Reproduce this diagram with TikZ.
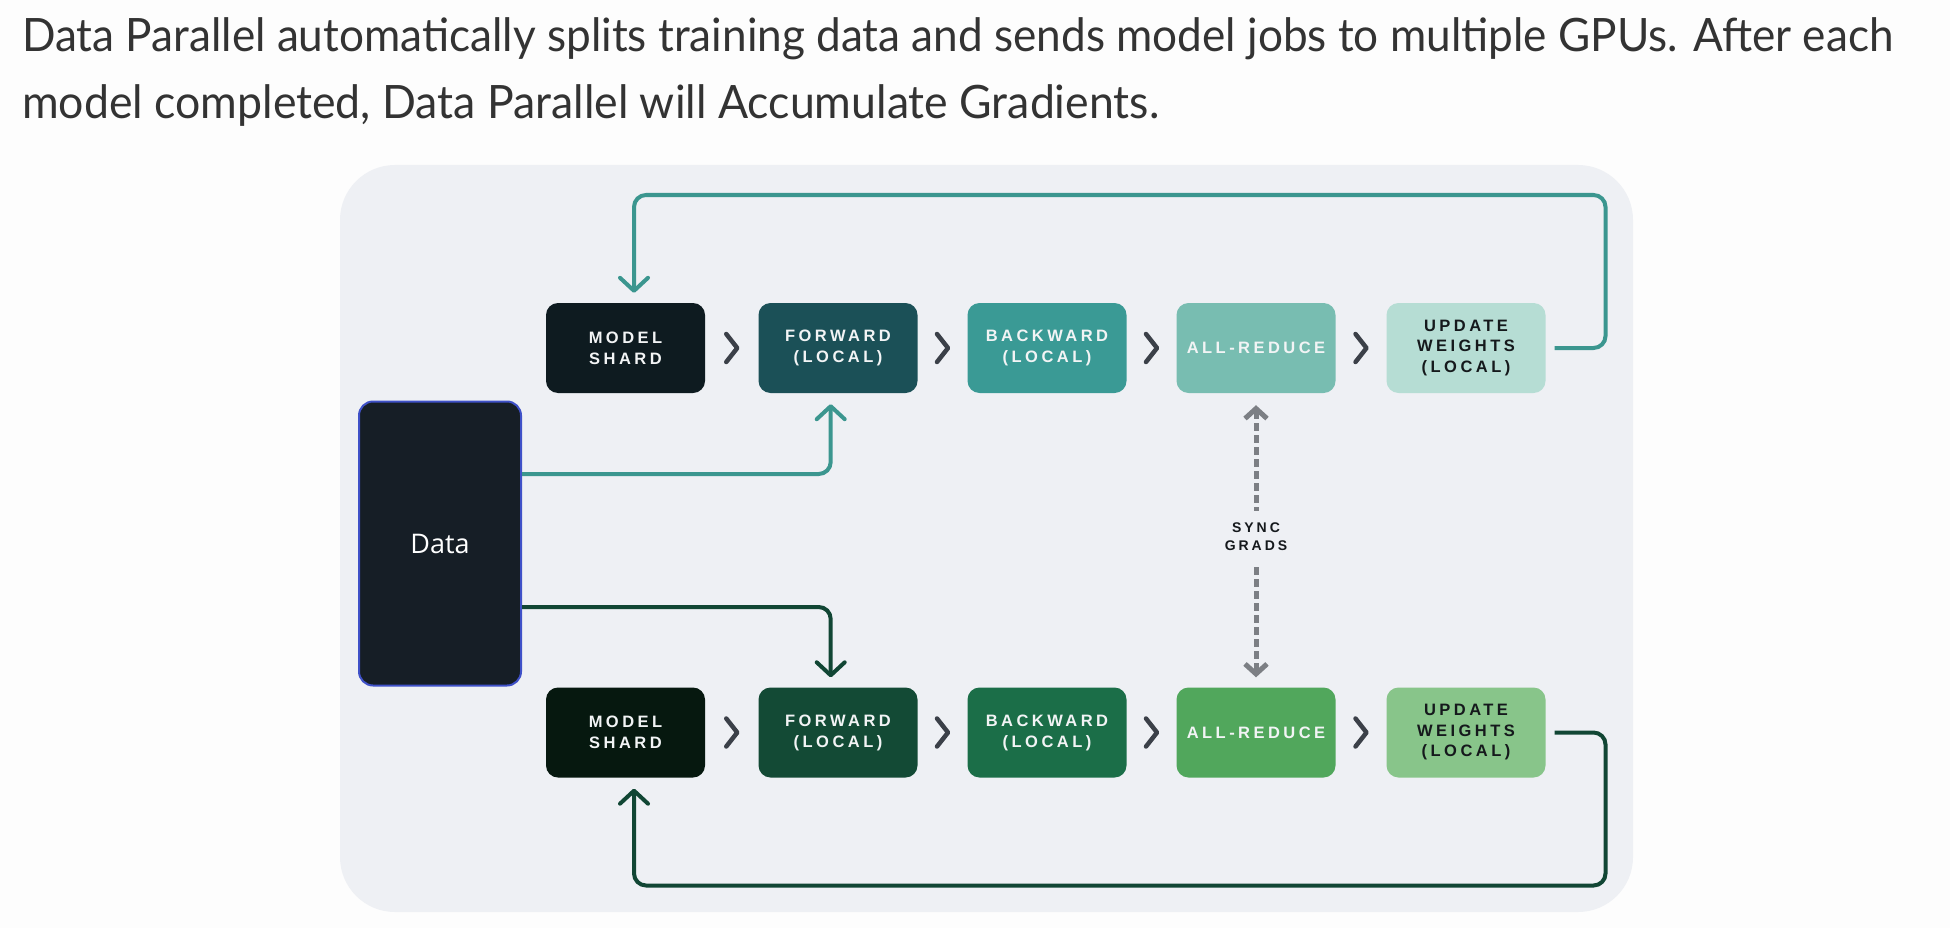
\documentclass[tikz,border=0pt]{standalone}
\usepackage{fontspec}
\usepackage{graphicx}
\usetikzlibrary{arrows.meta,calc}
\newfontfamily\titlefont{Lato}
\newfontfamily\boxfont[LetterSpace=21]{Liberation Sans}
\newfontfamily\datafont{Open Sans}
\definecolor{bgc}{HTML}{FDFDFD}
\definecolor{panelc}{HTML}{EEF0F4}
\definecolor{titlec}{HTML}{333333}
\definecolor{tealline}{HTML}{3B968F}
\definecolor{greenline}{HTML}{114634}
\definecolor{chevc}{HTML}{3B4048}
\definecolor{syncc}{HTML}{7C7F84}
\definecolor{msT}{HTML}{0E1B20}
\definecolor{fwT}{HTML}{1B5057}
\definecolor{bwT}{HTML}{3A9A95}
\definecolor{arT}{HTML}{78BDB1}
\definecolor{uwT}{HTML}{B6DDD4}
\definecolor{msB}{HTML}{06180F}
\definecolor{fwB}{HTML}{134A35}
\definecolor{bwB}{HTML}{1B6E48}
\definecolor{arB}{HTML}{51A75C}
\definecolor{uwB}{HTML}{88C58A}
\definecolor{datac}{HTML}{161E26}
\definecolor{datab}{HTML}{3F51C8}
\definecolor{lighttxt}{HTML}{F2F4F5}
\definecolor{darktxt}{HTML}{15191C}
\begin{document}
\begin{tikzpicture}[x=1pt,y=-1pt,
  stagebox/.style={rounded corners=12pt, minimum width=159pt, minimum height=90pt,
    inner sep=0pt, align=center, text=lighttxt,
    font=\boxfont\bfseries\fontsize{16.5}{21}\selectfont},
  flowline/.style={line width=4pt, rounded corners=12pt,
    -{Straight Barb[length=13pt,width=28pt,line cap=round,line join=round]}},
  chevline/.style={draw=chevc, line width=4.5pt, line cap=round, line join=round},
  syncline/.style={draw=syncc, line width=5pt, dash pattern=on 8pt off 4pt,
    {Straight Barb[length=10pt,width=22pt]}-{Straight Barb[length=10pt,width=22pt]}},
  chev/.pic={\draw[chevline] (-5.5,-14) -- (5.5,0) -- (-5.5,14);}
]
\useasboundingbox (0,0) rectangle (1950,928);
\fill[bgc] (0,0) rectangle (1950,928);
\fill[panelc, rounded corners=55pt] (340,165) rectangle (1633,912);

% title
\node[anchor=base west, inner sep=0pt, text=titlec] (t1) at (22,52)
  {\resizebox{1871pt}{\height}{\titlefont\fontsize{46}{50}\selectfont Data Parallel automatically splits training data and sends model jobs to multiple GPUs. After each}};
\node[anchor=base west, inner sep=0pt, text=titlec] (t2) at (22,119)
  {\resizebox{1137pt}{\height}{\titlefont\fontsize{46}{50}\selectfont model completed, Data Parallel will Accumulate Gradients.}};

% data box
\node[draw=datab, line width=2pt, fill=datac, rounded corners=14pt,
  minimum width=162pt, minimum height=284pt, inner sep=0pt, text=white,
  font=\datafont\fontsize{27}{30}\selectfont] (data) at (440,543.5) {Data};

% top row
\node[stagebox, fill=msT] (ms) at (625.5,348) {MODEL\\SHARD};
\node[stagebox, fill=fwT] (fw) at (838,348) {FORWARD\\(LOCAL)};
\node[stagebox, fill=bwT] (bw) at (1047,348) {BACKWARD\\(LOCAL)};
\node[stagebox, fill=arT] (ar) at (1256,348) {ALL-REDUCE};
\node[stagebox, fill=uwT, text=darktxt, font=\boxfont\bfseries\fontsize{16.5}{20.5}\selectfont] (uw) at (1466,348) {UPDATE\\WEIGHTS\\(LOCAL)};

% bottom row
\node[stagebox, fill=msB] (msb) at (625.5,732.5) {MODEL\\SHARD};
\node[stagebox, fill=fwB] (fwb) at (838,732.5) {FORWARD\\(LOCAL)};
\node[stagebox, fill=bwB] (bwb) at (1047,732.5) {BACKWARD\\(LOCAL)};
\node[stagebox, fill=arB] (arb) at (1256,732.5) {ALL-REDUCE};
\node[stagebox, fill=uwB, text=darktxt, font=\boxfont\bfseries\fontsize{16.5}{20.5}\selectfont] (uwb) at (1466,732.5) {UPDATE\\WEIGHTS\\(LOCAL)};

% chevrons between stages
\foreach \a/\b in {ms/fw,fw/bw,bw/ar,ar/uw,msb/fwb,fwb/bwb,bwb/arb,arb/uwb}{
  \path (\a.east) -- (\b.west) pic[pos=0.5]{chev};
}

% helper coordinates
\coordinate (tr) at (1605.5,195);
\coordinate (br) at (1605.5,885.5);
\coordinate (lx) at (634,0);
\coordinate (fx) at (830.7,0);

% loops
\draw[flowline, draw=tealline, shorten <=9pt, shorten >=10pt]
  (uw.east) -| (tr) -| (ms.north -| lx);
\draw[flowline, draw=greenline, shorten <=9pt, shorten >=11pt]
  (uwb.east) -| (br) -| (msb.south -| lx);

% data to forward
\draw[flowline, draw=tealline, shorten >=11pt]
  ([yshift=69.5pt]data.east) -| (fw.south -| fx);
\draw[flowline, draw=greenline, shorten >=10pt]
  ([yshift=-63.5pt]data.east) -| (fwb.north -| fx);

% sync grads
\draw[syncline, shorten <=12pt, shorten >=10pt] (ar.south) -- (arb.north);
\node[fill=panelc, inner xsep=4pt, inner ysep=12pt, align=center, text=darktxt,
  font=\boxfont\bfseries\fontsize{14}{18}\selectfont] (sg) at (1256,537) {SYNC\\GRADS};
\end{tikzpicture}
\end{document}
